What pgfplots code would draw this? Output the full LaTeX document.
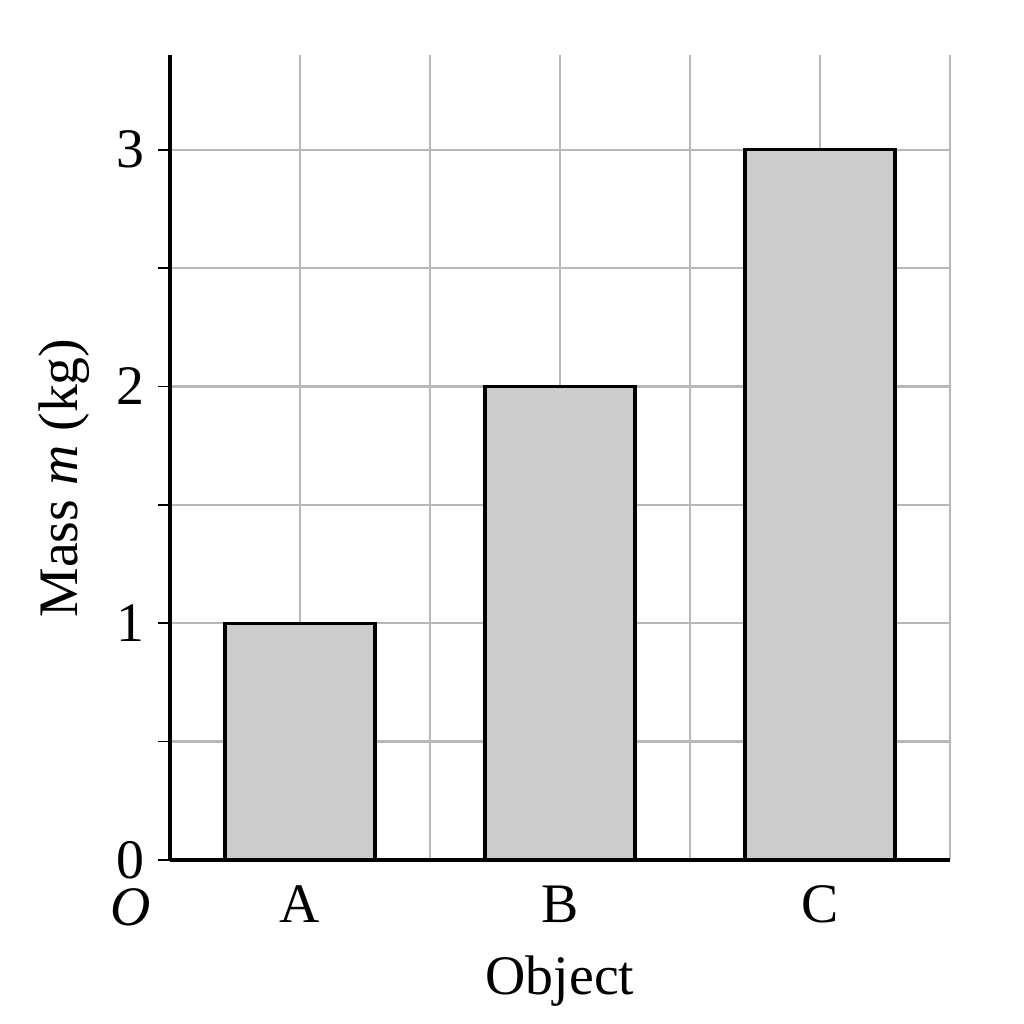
\documentclass[border=0pt]{standalone}
\usepackage{pgfplots}
\pgfplotsset{compat=1.18}
\usepackage{fontspec}
\setmainfont{Liberation Serif}

\definecolor{barfill}{RGB}{204,204,204}
\definecolor{gridgray}{RGB}{184,184,184}

\begin{document}
\begin{tikzpicture}
\fontsize{15.5}{18}\selectfont
\useasboundingbox (-1.660cm,-1.602cm) rectangle (8.340cm,8.398cm);
\begin{axis}[
    at={(0,0)}, anchor=south west,
    scale only axis,
    width=7.617cm, height=7.861cm,
    xmin=0, xmax=6,
    ymin=0, ymax=3.4,
    axis lines=left,
    axis line style={-, line width=1.1pt, black},
    xtick={1,2,3,4,5,6},
    xticklabels={A,,B,,C,},
    xtick style={draw=none},
    ytick={0,1,2,3},
    minor ytick={0.5,1.5,2.5},
    tick align=outside,
    major tick length=0.117cm,
    minor tick length=0.117cm,
    ytick style={black, line width=0.5pt},
    minor tick style={black, line width=0.5pt},
    grid=both,
    major grid style={gridgray, line width=0.6pt},
    minor grid style={gridgray, line width=0.6pt},
    /pgf/number format/assume math mode=true,
    tick label style={font=\fontsize{15.5}{18}\selectfont},
    yticklabel style={inner sep=0pt, xshift=-0.127cm},
    xticklabel style={inner sep=0pt, yshift=-0.127cm},
    xlabel={Object},
    ylabel={Mass \textit{m} (kg)},
    label style={font=\fontsize{15.5}{18}\selectfont},
    xlabel style={at={(axis description cs:0.5,-0.1677)}, anchor=base, inner sep=0pt},
    ylabel style={at={(axis description cs:-0.118,0.4745)}, rotate=0, anchor=base, inner sep=0pt},
    clip=false,
]
\addplot[ybar, bar width=1.1538, fill=barfill, draw=black, line width=0.85pt]
coordinates {
(1, 1)
(3, 2)
(5, 3)
};
\node[inner sep=0pt, font=\fontsize{15.5}{18}\selectfont] at (axis description cs:-0.05,-0.0584) {\textit{O}};
\end{axis}
\end{tikzpicture}
\end{document}
